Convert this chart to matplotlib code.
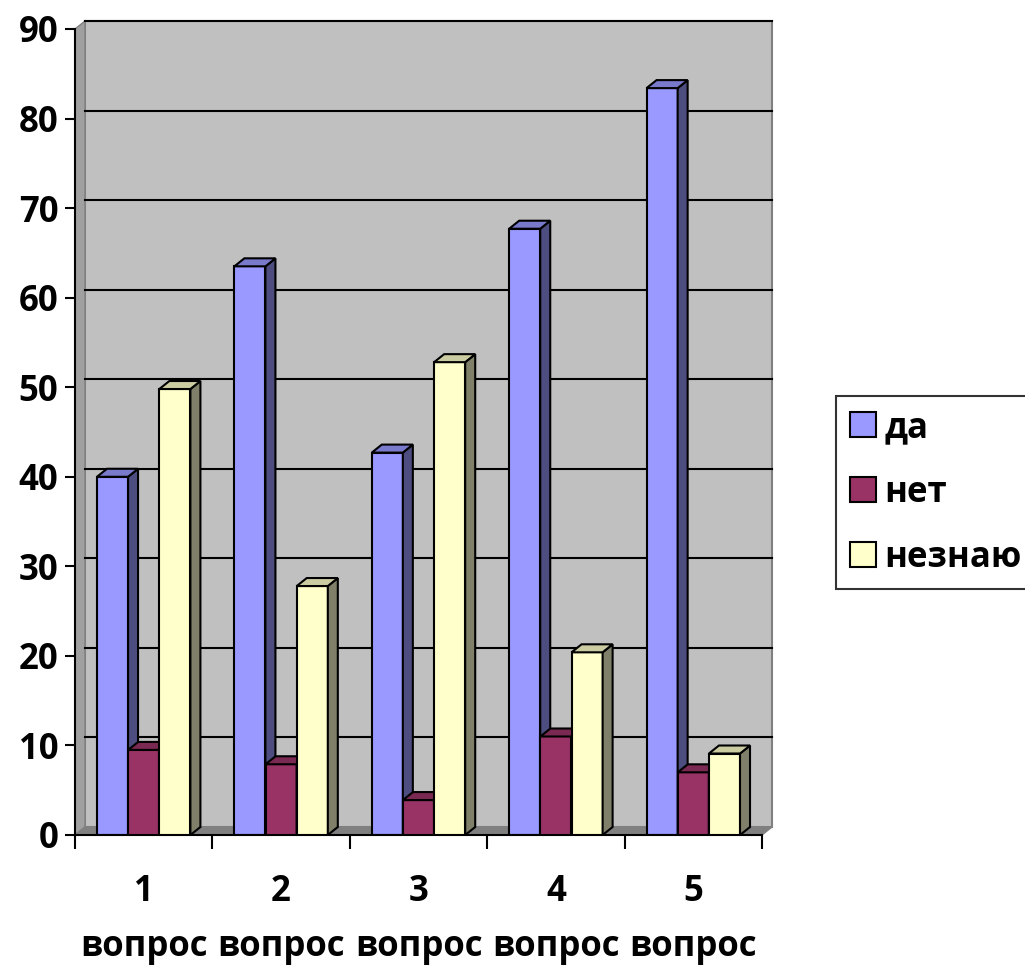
import matplotlib
matplotlib.use('Agg')
import matplotlib.pyplot as plt
import matplotlib.transforms as mtransforms
from matplotlib.patches import Rectangle, Polygon, Patch
import numpy as np

plt.rcParams['font.family'] = ['Open Sans', 'Liberation Sans', 'DejaVu Sans']
plt.rcParams['font.weight'] = 'bold'

# данные
questions = ['1\n\nвопрос', '2\n\nвопрос', '3\n\nвопрос', '4\n\nвопрос', '5\n\nвопрос']
series_names = ['да', 'нет', 'незнаю']
da = [40, 63.5, 42.7, 67.7, 83.4]
net = [9.5, 7.9, 3.9, 11.0, 7.0]
neznayu = [49.8, 27.8, 52.8, 20.4, 9.1]

front_colors = ['#9999FF', '#993366', '#FFFFCC']
side_colors = ['#4D4D80', '#4D1A33', '#80806A']
top_colors = ['#7A7ACC', '#7A2952', '#CCCCA3']

W, H = 1025, 965
fig = plt.figure(figsize=(W / 100, H / 100), dpi=100)
x0, x1, y0, y1 = 75, 762, 835, 29
ax = fig.add_axes([x0 / W, (H - y0) / H, (x1 - x0) / W, (y0 - y1) / H])
ax.set_xlim(0, 5)
ax.set_ylim(0, 90)
ax.patch.set_visible(False)

dpx, dpy = 10, 8  # глубина в пикселях
shift = mtransforms.ScaledTranslation(dpx / 100, dpy / 100, fig.dpi_scale_trans)
back = ax.transAxes + shift
back_data = ax.transData + shift

# задняя стенка
ax.add_patch(Rectangle((0, 0), 1, 1, transform=back, facecolor='#C0C0C0',
                       edgecolor='#808080', lw=1.5, zorder=0, clip_on=False))
# левая стенка и пол
ax.add_patch(Polygon([(0, 0), (0, 1), (dpx / (x1 - x0), 1 + dpy / (y0 - y1)),
                      (dpx / (x1 - x0), dpy / (y0 - y1))], closed=True,
                     transform=ax.transAxes, facecolor='#A0A0A0', edgecolor='#808080',
                     lw=1, zorder=0, clip_on=False))
ax.add_patch(Polygon([(0, 0), (1, 0), (1 + dpx / (x1 - x0), dpy / (y0 - y1)),
                      (dpx / (x1 - x0), dpy / (y0 - y1))], closed=True,
                     transform=ax.transAxes, facecolor='#808080', edgecolor='#808080',
                     lw=1, zorder=0.5, clip_on=False))

# сетка на задней стенке
for v in range(10, 91, 10):
    ax.plot([0, 5], [v, v], color='black', lw=1.5, transform=back_data, zorder=0.6, clip_on=False)

# столбцы
sx = 5 * dpx / (x1 - x0)
sy = 90 * dpy / (y0 - y1)
width = 0.226
offsets = [-0.227, 0, 0.227]
xs = np.arange(5) + 0.5
for k, vals in enumerate([da, net, neznayu]):
    bars = ax.bar(xs + offsets[k], vals, width, color=front_colors[k],
                  edgecolor='black', lw=1.5, zorder=2 + k)
    for b in bars:
        l, r, h = b.get_x(), b.get_x() + b.get_width(), b.get_height()
        ax.add_patch(Polygon([(r, 0), (r + sx, sy), (r + sx, h + sy), (r, h)], closed=True,
                             facecolor=side_colors[k], edgecolor='black', lw=1.5,
                             zorder=2 + k, clip_on=False))
        ax.add_patch(Polygon([(l, h), (r, h), (r + sx, h + sy), (l + sx, h + sy)], closed=True,
                             facecolor=top_colors[k], edgecolor='black', lw=1.5,
                             zorder=2 + k, clip_on=False))

for s in ['top', 'right']:
    ax.spines[s].set_visible(False)
ax.spines['left'].set_linewidth(1.5)
ax.spines['bottom'].set_linewidth(1.5)
ax.set_yticks(range(0, 91, 10))
ax.set_xticks(range(0, 6))
ax.set_xticklabels([])
ax.set_xticks(xs, minor=True)
ax.set_xticklabels(questions, minor=True, fontsize=25, fontweight='bold', linespacing=0.68)
ax.tick_params(axis='x', which='minor', length=0, pad=28)
ax.tick_params(axis='x', which='major', length=10, width=1.5, direction='out')
ax.tick_params(axis='y', length=7, width=1.5, labelsize=25, pad=5)
for t in ax.get_yticklabels():
    t.set_fontweight('bold')

handles = [Patch(facecolor=c, edgecolor='black', lw=1.5) for c in front_colors]
leg = fig.legend(handles, series_names, loc='upper left',
                 bbox_to_anchor=(836 / W, (H - 396) / H),
                 prop={'weight': 'bold', 'size': 25}, frameon=True, fancybox=False,
                 edgecolor='black', handlelength=0.75, handleheight=0.75,
                 handletextpad=0.25, labelspacing=0.83, borderpad=0.4, borderaxespad=0)
leg.get_frame().set_linewidth(1.5)

fig.savefig('out.png', dpi=100)
